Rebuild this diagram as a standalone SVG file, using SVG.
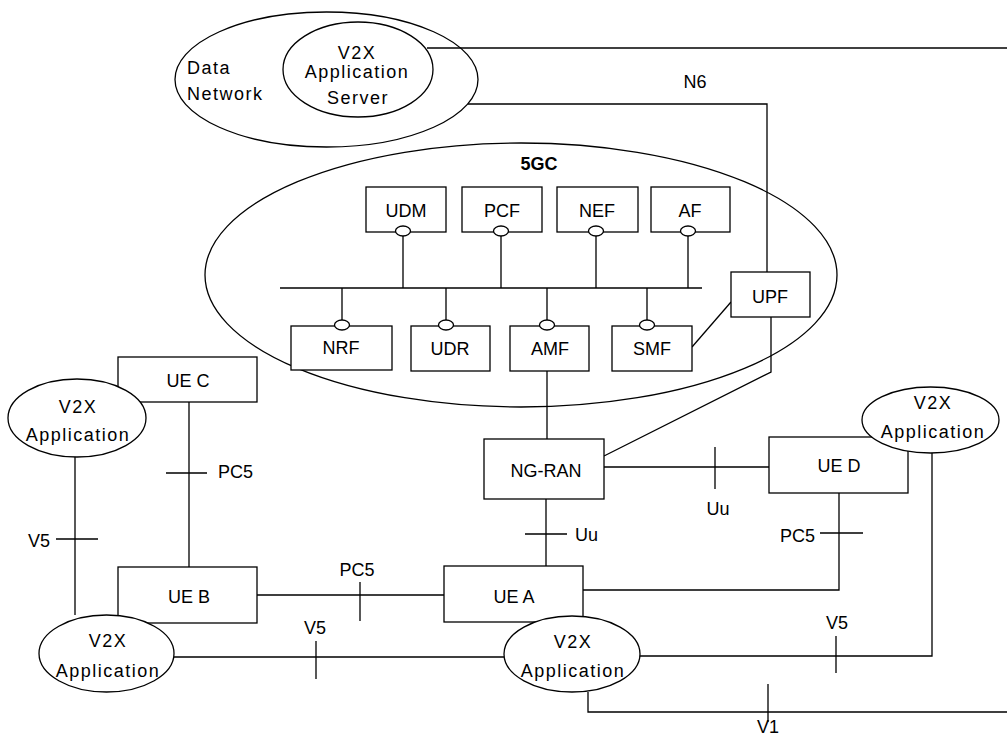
<svg xmlns="http://www.w3.org/2000/svg" width="1007" height="738" viewBox="0 0 1007 738">
<style>
.s{fill:#fff;stroke:#000;stroke-width:1.3}
.n{fill:none;stroke:#000;stroke-width:1.3}
.t{font-family:"Liberation Sans",Arial,sans-serif;font-size:18px;fill:#000;text-anchor:middle}
.l{text-anchor:start}
.e{text-anchor:end}
.a{letter-spacing:1.5px}
.b{font-weight:bold}
</style>
<rect width="1007" height="738" fill="#fff"/>
<g id="data-network">
<ellipse class="s" cx="326.5" cy="79.5" rx="151.5" ry="67.5"/>
<text class="t l a" x="187" y="74">Data</text>
<text class="t l a" x="187" y="100">Network</text>
</g>
<g id="v2x-app-server">
<ellipse class="s" cx="358" cy="69.5" rx="75" ry="47.5"/>
<text class="t a" x="357" y="59">V2X</text>
<text class="t a" x="357" y="78">Application</text>
<text class="t a" x="358" y="104">Server</text>
</g>
<g id="core-5gc">
<ellipse class="n" cx="521" cy="275" rx="316" ry="132"/>
<text class="t b" x="539" y="170">5GC</text>
</g>
<g id="connectors">
<path class="n" d="M427,48H1007"/>
<path class="n" d="M468,104H767V272"/>
<text class="t" x="695" y="88">N6</text>
<path class="n" d="M280,288H702"/>
<path class="n" d="M403,236V288M501,236V288M596,236V288M688,236V288"/>
<path class="n" d="M342,288V320M446,288V320M547,288V320M647,288V320"/>
<path class="n" d="M692,347L731,302"/>
<path class="n" d="M771,317V372L604,456"/>
<path class="n" d="M547,371V439"/>
<path class="n" d="M546,499V566M525,534H567"/>
<text class="t l" x="575" y="541">Uu</text>
<path class="n" d="M602,467H769M715,447V489"/>
<text class="t" x="718" y="515">Uu</text>
<path class="n" d="M839,493V590H583M820,533H863"/>
<text class="t e" x="815" y="542">PC5</text>
<path class="n" d="M189,402V567M166,473H207"/>
<text class="t l" x="218" y="478">PC5</text>
<path class="n" d="M75,457V615M56,539H98"/>
<text class="t e" x="50" y="547">V5</text>
<path class="n" d="M257,595H444M360,582V621"/>
<text class="t" x="357" y="576">PC5</text>
<path class="n" d="M174,657H504M316,641V679"/>
<text class="t" x="315" y="634">V5</text>
<path class="n" d="M637,656H932V453M836,636V673"/>
<text class="t" x="837" y="629">V5</text>
<path class="n" d="M588,692V712H1007M768,684V722"/>
<text class="t" x="768" y="733">V1</text>
</g>
<g id="udm"><rect class="s" x="366" y="187" width="80" height="45"/><text class="t" x="406" y="217">UDM</text><ellipse class="s" cx="403" cy="231" rx="7.5" ry="5"/></g>
<g id="pcf"><rect class="s" x="462" y="187" width="80" height="45"/><text class="t" x="502" y="217">PCF</text><ellipse class="s" cx="501" cy="231" rx="7.5" ry="5"/></g>
<g id="nef"><rect class="s" x="557" y="187" width="81" height="45"/><text class="t" x="597" y="217">NEF</text><ellipse class="s" cx="596" cy="231" rx="7.5" ry="5"/></g>
<g id="af"><rect class="s" x="651" y="187" width="79" height="45"/><text class="t" x="690" y="217">AF</text><ellipse class="s" cx="688" cy="231" rx="7.5" ry="5"/></g>
<g id="nrf"><rect class="s" x="291" y="326" width="101" height="44"/><text class="t" x="341" y="354">NRF</text><ellipse class="s" cx="342" cy="325" rx="7.5" ry="5"/></g>
<g id="udr"><rect class="s" x="411" y="326" width="79" height="45"/><text class="t" x="450" y="355">UDR</text><ellipse class="s" cx="446" cy="325" rx="7.5" ry="5"/></g>
<g id="amf"><rect class="s" x="510" y="326" width="79" height="45"/><text class="t" x="550" y="355">AMF</text><ellipse class="s" cx="547" cy="325" rx="7.5" ry="5"/></g>
<g id="smf"><rect class="s" x="612" y="326" width="80" height="45"/><text class="t" x="652" y="355">SMF</text><ellipse class="s" cx="647" cy="325" rx="7.5" ry="5"/></g>
<g id="upf"><rect class="s" x="731" y="272" width="79" height="45"/><text class="t" x="770" y="303">UPF</text></g>
<g id="ng-ran"><rect class="s" x="484" y="439" width="120" height="60"/><text class="t" x="546" y="477">NG-RAN</text></g>
<g id="ue-c"><rect class="s" x="118" y="357" width="139" height="45"/><text class="t" x="188" y="387">UE C</text></g>
<g id="ue-b"><rect class="s" x="118" y="567" width="139" height="56"/><text class="t" x="189" y="603">UE B</text></g>
<g id="ue-a"><rect class="s" x="444" y="566" width="139" height="56"/><text class="t" x="514" y="603">UE A</text></g>
<g id="ue-d"><rect class="s" x="769" y="437" width="139" height="56"/><text class="t" x="839" y="472">UE D</text></g>
<g id="v2x-app-c"><ellipse class="s" cx="77" cy="418" rx="69" ry="39"/><text class="t a" x="78" y="413">V2X</text><text class="t a" x="78" y="441">Application</text></g>
<g id="v2x-app-d"><ellipse class="s" cx="930.5" cy="420" rx="68.5" ry="33"/><text class="t a" x="933" y="409">V2X</text><text class="t a" x="933" y="438">Application</text></g>
<g id="v2x-app-b"><ellipse class="s" cx="106.5" cy="653.5" rx="67.5" ry="38.5"/><text class="t a" x="108" y="647">V2X</text><text class="t a" x="108" y="677">Application</text></g>
<g id="v2x-app-a"><ellipse class="s" cx="572" cy="654" rx="68" ry="38"/><text class="t a" x="573" y="648">V2X</text><text class="t a" x="573" y="677">Application</text></g>
</svg>
